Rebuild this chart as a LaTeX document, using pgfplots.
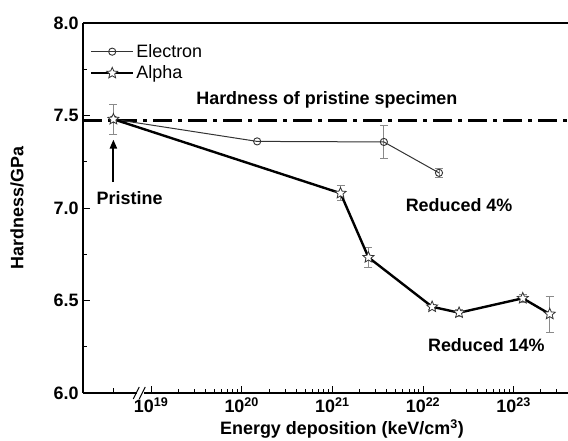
\documentclass[border=0pt]{standalone}
\usepackage{fontspec}
\setmainfont{Liberation Sans}
\usepackage{pgfplots}
\pgfplotsset{compat=1.18}
\usetikzlibrary{arrows.meta}

\pgfdeclareplotmark{ostar}{%
  \pgfpathmoveto{\pgfpointpolar{90}{\pgfplotmarksize}}%
  \pgfpathlineto{\pgfpointpolar{126}{0.45\pgfplotmarksize}}%
  \pgfpathlineto{\pgfpointpolar{162}{\pgfplotmarksize}}%
  \pgfpathlineto{\pgfpointpolar{198}{0.45\pgfplotmarksize}}%
  \pgfpathlineto{\pgfpointpolar{234}{\pgfplotmarksize}}%
  \pgfpathlineto{\pgfpointpolar{270}{0.45\pgfplotmarksize}}%
  \pgfpathlineto{\pgfpointpolar{306}{\pgfplotmarksize}}%
  \pgfpathlineto{\pgfpointpolar{342}{0.45\pgfplotmarksize}}%
  \pgfpathlineto{\pgfpointpolar{18}{\pgfplotmarksize}}%
  \pgfpathlineto{\pgfpointpolar{54}{0.45\pgfplotmarksize}}%
  \pgfpathclose
  \pgfusepathqfillstroke}

\definecolor{errgray}{HTML}{8A8A8A}
\definecolor{elecline}{HTML}{333333}
\newcommand{\bigbf}{\fontsize{18}{21}\selectfont\bfseries}

\pgfplotstableread{
x y
3.84e18 7.480
1.48e20 7.360
3.70e21 7.357
1.50e22 7.190
}\electron

\pgfplotstableread{
x y e
3.70e21 7.357 0.087
1.50e22 7.190 0.025
}\electronerr

\pgfplotstableread{
x y e
3.84e18 7.480 0.080
1.23e21 7.080 0.040
2.50e21 6.733 0.055
1.26e22 6.466 0.015
2.50e22 6.434 0.020
1.26e23 6.512 0.020
2.50e23 6.427 0.097
}\alpha

\begin{document}
\begin{tikzpicture}
\begin{axis}[
  scale only axis,
  width=485bp, height=370bp,
  xmode=log, log basis x=10,
  xmin=1.775e18, xmax=3.98e23,
  ymin=6.0, ymax=8.0,
  axis x line*=box, axis y line*=left,
  axis line style={-, line width=1.3bp},
  xtick pos=bottom, ytick pos=left,
  tick align=inside,
  major tick length=7bp, minor tick length=4bp,
  every tick/.style={black, line width=0.9bp},
  xtick={1e19,1e20,1e21,1e22,1e23},
  xticklabels={\textbf{10\textsuperscript{19}},\textbf{10\textsuperscript{20}},\textbf{10\textsuperscript{21}},\textbf{10\textsuperscript{22}},\textbf{10\textsuperscript{23}}},
  extra x ticks={3.84e18}, extra x tick labels={},
  extra x tick style={major tick length=5bp},
  minor xtick={2e19,3e19,4e19,5e19,6e19,7e19,8e19,9e19,
               2e20,3e20,4e20,5e20,6e20,7e20,8e20,9e20,
               2e21,3e21,4e21,5e21,6e21,7e21,8e21,9e21,
               2e22,3e22,4e22,5e22,6e22,7e22,8e22,9e22,
               2e23,3e23},
  ytick={6.0,6.5,7.0,7.5,8.0},
  minor ytick={6.25,6.75,7.25,7.75},
  ticklabel style={font=\bigbf},
  yticklabel style={xshift=-1bp, /pgf/number format/.cd, fixed, fixed zerofill, precision=1, assume math mode=true},
  xticklabel style={yshift=-1bp},
  clip=false,
  legend style={at={(rel axis cs:0.014,0.948)}, anchor=north west, draw=none, fill=none,
    inner sep=0pt, row sep=3bp, font=\fontsize{18}{20}\selectfont, cells={anchor=west}},
  legend image code/.code={\draw[mark repeat=2, mark phase=2, #1] plot coordinates {(0bp,0bp) (21bp,0bp) (42bp,0bp)};},
]
% pristine line
\addplot[black, line width=3bp, dash pattern=on 19bp off 6bp on 4bp off 6bp, forget plot]
  coordinates {(1.775e18,7.472) (3.98e23,7.472)};
% error bars
\addplot[draw=none, mark=none, forget plot,
  error bars/.cd, y dir=both, y explicit,
  error bar style={errgray, line width=0.8bp},
  error mark options={rotate=90, mark size=4bp, errgray, line width=0.8bp}]
  table[x=x, y=y, y error=e] {\electronerr};
\addplot[draw=none, mark=none, forget plot,
  error bars/.cd, y dir=both, y explicit,
  error bar style={errgray, line width=0.8bp},
  error mark options={rotate=90, mark size=4bp, errgray, line width=0.8bp}]
  table[x=x, y=y, y error=e] {\alpha};
% electron
\addplot[elecline, line width=1bp, mark=o, mark size=3.6bp,
  mark options={solid, fill=white, line width=0.9bp, draw=elecline}]
  table[x=x, y=y] {\electron};
\addlegendentry{Electron}
% alpha
\addplot[black, line width=2.4bp, mark=ostar, mark size=5.8bp,
  mark options={solid, fill=white, line width=0.8bp, draw=elecline}]
  table[x=x, y=y] {\alpha};
\addlegendentry{Alpha}
% annotations
\node[font=\bigbf] at (axis cs:8.7e20,7.584) {Hardness of pristine specimen};
\node[font=\bigbf] at (axis cs:5.8e18,7.052) {Pristine};
\draw[black, line width=2bp, -{Triangle[length=9bp,width=7bp]}] (axis cs:3.84e18,7.14) -- (axis cs:3.84e18,7.37);
\node[font=\bigbf] at (axis cs:2.5e22,7.016) {Reduced 4\%};
\node[font=\bigbf] at (axis cs:5e22,6.259) {Reduced 14\%};
% axis break
\coordinate (brk) at (axis cs:7.6e18,6.0);
\fill[white] ([xshift=-3.5bp,yshift=-3bp]brk) rectangle ([xshift=3.5bp,yshift=3bp]brk);
\draw[black, line width=1bp] ([xshift=-7bp,yshift=-6bp]brk) -- ([xshift=-1bp,yshift=6bp]brk);
\draw[black, line width=1bp] ([xshift=-1bp,yshift=-6bp]brk) -- ([xshift=5bp,yshift=6bp]brk);
% axis labels
\coordinate (SW) at (rel axis cs:0,0);
\coordinate (NE) at (rel axis cs:1,1);
\coordinate (YL) at (rel axis cs:0,0.5);
\coordinate (XL) at (rel axis cs:0.534,0);
\end{axis}
\node[rotate=90, font=\bigbf] at ([xshift=-66bp]YL) {Hardness/GPa};
\node[font=\bigbf] at ([yshift=-36bp]XL) {Energy deposition (keV/cm\textsuperscript{3})};
\pgfresetboundingbox
\path[use as bounding box] ([xshift=-83bp,yshift=-48bp]SW) rectangle ([yshift=23bp]NE);
\end{tikzpicture}
\end{document}
